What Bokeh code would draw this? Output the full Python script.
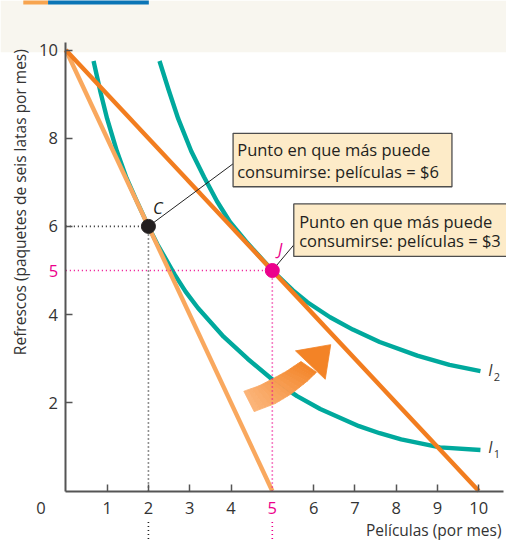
import numpy as np
from bokeh.plotting import figure
from bokeh.models import FixedTicker, BoxAnnotation
from bokeh.core.properties import value
from bokeh.embed import file_html
from bokeh.resources import INLINE

# ---------------- data ----------------
x_ticks = [1, 2, 3, 4, 6, 7, 8, 9, 10]
y_ticks = [2, 4, 6, 8, 10]
highlight_tick = 5

budget6_x = [0, 5]        # movies at $6
budget6_y = [10, 0]
budget3_x = [0, 10]       # movies at $3
budget3_y = [10, 0]

i1_x = [0.671, 0.843, 1.0, 1.235, 1.469, 1.704, 2.0, 2.214, 2.64, 2.9, 3.2, 3.82, 4.4, 5.0, 5.6, 6.16, 7.1, 7.6, 8.12, 9.06, 10.04]
i1_y = [9.751, 9.031, 8.443, 7.709, 7.10, 6.60, 6.0, 5.60, 4.90, 4.52, 4.15, 3.50, 3.0, 2.53, 2.15, 1.86, 1.47, 1.31, 1.17, 0.99, 0.93]

i2_x = [2.268, 2.486, 2.721, 3.035, 3.347, 3.66, 3.974, 4.364, 5.0, 5.5, 5.85, 6.4, 6.95, 7.6, 8.51, 9.29, 10.04]
i2_y = [9.751, 9.104, 8.443, 7.709, 7.121, 6.57, 6.10, 5.66, 5.0, 4.55, 4.28, 3.94, 3.66, 3.38, 3.07, 2.86, 2.72]

point_c = (2, 6)
point_j = (5, 5)

box1_text = ["Punto en que más puede", "consumirse: películas = $6"]
box2_text = ["Punto en que más puede", "consumirse: películas = $3"]

# arrow outline (data units)
arrow_upper_x = [4.310, 4.678, 4.991, 5.343, 5.695]
arrow_upper_y = [2.262, 2.385, 2.533, 2.716, 2.937]
arrow_lower_x = [4.561, 5.068, 5.460, 5.852, 6.070]
arrow_lower_y = [1.800, 1.982, 2.203, 2.496, 2.694]
arrow_head_x = [5.561, 6.415, 6.282]
arrow_head_y = [3.178, 3.319, 2.533]

# cut-off header tab at the top (data units)
tab_orange = (-1.03, -0.43)
tab_blue = (-0.43, 2.01)
tab_y = (11.03, 11.2)

# ---------------- style ----------------
TEAL = "#00a99d"
DARK_OR = "#f27d1f"
LIGHT_OR = "#f9a85e"
PINK = "#ec008c"
AXIS = "#555555"
TXT = "#333333"
FONT = "Open Sans"
FS = "16.5px"
FS_AX = "15.5px"

p = figure(width=506, height=541, x_range=(-1.582, 10.671), y_range=(-1.145, 11.123),
           toolbar_location=None, output_backend="svg", min_border=0)
p.title.visible = False
p.outline_line_color = None
p.grid.visible = False
p.background_fill_color = "white"
p.border_fill_color = "white"

# cream band at top
p.add_layout(BoxAnnotation(bottom=9.95, fill_color="#f8f6ef", fill_alpha=1.0,
                           line_color=None, level="underlay"))
# header tab remnants
p.quad(left=[tab_orange[0]], right=[tab_orange[1]], bottom=[tab_y[0]], top=[tab_y[1]],
       fill_color="#f7a44f", line_color=None)
p.quad(left=[tab_blue[0]], right=[tab_blue[1]], bottom=[tab_y[0]], top=[tab_y[1]],
       fill_color="#0b75b6", line_color=None)

# axes, fixed at origin
for ax in (p.xaxis[0], p.yaxis[0]):
    ax.fixed_location = 0
    ax.axis_line_color = AXIS
    ax.axis_line_width = 2
    ax.major_tick_line_color = AXIS
    ax.major_tick_line_width = 1.5
    ax.major_tick_in = 7
    ax.major_tick_out = 0
    ax.minor_tick_line_color = None
    ax.major_label_text_font = FONT
    ax.major_label_text_font_size = FS
    ax.major_label_text_color = TXT
p.xaxis.ticker = FixedTicker(ticks=x_ticks)
p.yaxis.ticker = FixedTicker(ticks=y_ticks)
p.xaxis.bounds = (0, 10.6)
p.yaxis.bounds = (0, 10.18)
p.xaxis.major_label_standoff = 11
p.yaxis.major_label_standoff = 8

# highlighted tick labels and origin
p.text(x=[highlight_tick], y=[-0.374], text=[str(highlight_tick)], text_color=PINK,
       text_font=value(FONT), text_font_size=value(FS), text_align="center", text_baseline="middle")
p.text(x=[-0.188], y=[highlight_tick], text=[str(highlight_tick)], text_color=PINK,
       text_font=value(FONT), text_font_size=value(FS), text_align="right", text_baseline="middle")
p.text(x=[-0.6], y=[-0.374], text=["0"], text_color=TXT,
       text_font=value(FONT), text_font_size=value(FS), text_align="center", text_baseline="middle")

# axis labels
p.text(x=[-1.11], y=[6.55], text=["Refrescos (paquetes de seis latas por mes)"], angle=np.pi / 2,
       text_color=TXT, text_font=value(FONT), text_font_size=value(FS_AX),
       text_align="center", text_baseline="middle")
p.text(x=[10.55], y=[-0.88], text=["Películas (por mes)"], text_color=TXT,
       text_font=value(FONT), text_font_size=value(FS_AX), text_align="right", text_baseline="middle")

# indifference curves
p.line(i1_x, i1_y, line_color=TEAL, line_width=4.4, line_join="round")
p.line(i2_x, i2_y, line_color=TEAL, line_width=4.4, line_join="round")

# budget lines
p.line(budget6_x, budget6_y, line_color=LIGHT_OR, line_width=4.4)
p.line(budget3_x, budget3_y, line_color=DARK_OR, line_width=4.4)

# curved gradient arrow
def lerp(a, b, t):
    return a + (b - a) * t

c0 = np.array([251, 180, 120])
c1 = np.array([243, 131, 38])
xs, ys, cols = [], [], []
nseg = len(arrow_upper_x) - 1
nsub = 4
total = nseg * nsub
k = 0
for i in range(nseg):
    for s in range(nsub):
        t0, t1 = s / nsub, (s + 1) / nsub
        ux0 = lerp(arrow_upper_x[i], arrow_upper_x[i + 1], t0)
        uy0 = lerp(arrow_upper_y[i], arrow_upper_y[i + 1], t0)
        ux1 = lerp(arrow_upper_x[i], arrow_upper_x[i + 1], t1)
        uy1 = lerp(arrow_upper_y[i], arrow_upper_y[i + 1], t1)
        lx0 = lerp(arrow_lower_x[i], arrow_lower_x[i + 1], t0)
        ly0 = lerp(arrow_lower_y[i], arrow_lower_y[i + 1], t0)
        lx1 = lerp(arrow_lower_x[i], arrow_lower_x[i + 1], t1)
        ly1 = lerp(arrow_lower_y[i], arrow_lower_y[i + 1], t1)
        xs.append([ux0, ux1, lx1, lx0])
        ys.append([uy0, uy1, ly1, ly0])
        c = c0 + (c1 - c0) * (k / total)
        cols.append("#%02x%02x%02x" % tuple(int(v) for v in c))
        k += 1
xs.append(arrow_head_x)
ys.append(arrow_head_y)
cols.append("#%02x%02x%02x" % tuple(int(v) for v in c1))
p.patches(xs, ys, fill_color=cols, line_color=cols, line_width=0.8)

# dotted guide lines
cx, cy = point_c
jx, jy = point_j
p.line([0, cx], [cy, cy], line_color="#222222", line_width=1.6, line_dash="1 3")
p.line([cx, cx], [cy, 0], line_color="#222222", line_width=1.6, line_dash="1 3")
p.line([cx, cx], [-0.70, -1.2], line_color="#222222", line_width=1.6, line_dash="1 3")
p.line([0, jx], [jy, jy], line_color=PINK, line_width=1.6, line_dash="1 3")
p.line([jx, jx], [jy, 0], line_color=PINK, line_width=1.6, line_dash="1 3")
p.line([jx, jx], [-0.70, -1.2], line_color=PINK, line_width=1.6, line_dash="1 3")

# leader lines
p.line([cx, 4.05], [cy, 7.42], line_color="#222222", line_width=1)
p.line([jx, 5.52], [jy, 5.58], line_color="#222222", line_width=1)

# callout boxes
p.quad(left=[4.05], right=[9.35], top=[8.11], bottom=[6.90],
       fill_color="#fdebc8", line_color="#4d4d4d", line_width=1.3)
p.quad(left=[5.52], right=[10.9], top=[6.51], bottom=[5.32],
       fill_color="#fdebc8", line_color="#4d4d4d", line_width=1.3)
p.text(x=[4.15, 4.15], y=[7.74, 7.25], text=box1_text, text_color="#231f20",
       text_font=value(FONT), text_font_size=value(FS), text_align="left", text_baseline="middle")
p.text(x=[5.65, 5.65], y=[6.11, 5.67], text=box2_text, text_color="#231f20",
       text_font=value(FONT), text_font_size=value(FS), text_align="left", text_baseline="middle")

# points
p.scatter([cx], [cy], size=14, fill_color="#231f20", line_color="#231f20")
p.scatter([jx], [jy], size=14, fill_color=PINK, line_color=PINK)
p.text(x=[2.23], y=[6.44], text=["C"], text_color="#231f20", text_font=value(FONT),
       text_font_style="italic", text_font_size=value(FS), text_align="center", text_baseline="middle")
p.text(x=[5.19], y=[5.51], text=["J"], text_color=PINK, text_font=value(FONT),
       text_font_style="italic", text_font_size=value(FS), text_align="center", text_baseline="middle")

# curve labels
p.text(x=[10.28, 10.28], y=[2.75, 0.99], text=["I", "I"], text_color=TXT, text_font=value(FONT),
       text_font_style="italic", text_font_size=value("15.5px"), text_align="center", text_baseline="middle")
p.text(x=[10.36, 10.36], y=[2.59, 0.83], text=["2", "1"], text_color=TXT, text_font=value(FONT),
       text_font_size=value("11px"), text_align="left", text_baseline="middle")

open("out.html", "w").write(file_html(p, INLINE))
